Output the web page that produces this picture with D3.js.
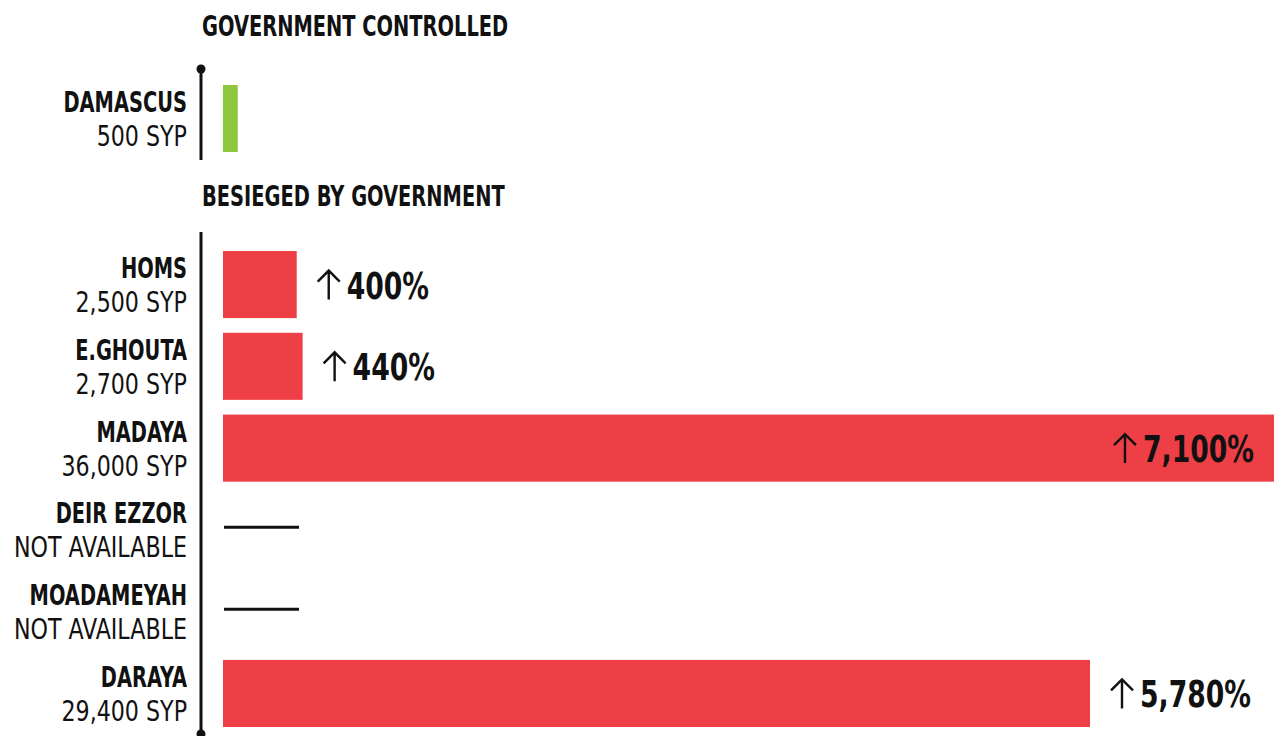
<!DOCTYPE html>
<html>
<head>
<meta charset="utf-8">
<script src="https://cdn.jsdelivr.net/npm/d3@7"></script>
<style>
	body { margin: 0; background: #fff; overflow: hidden; }
	svg { display: block; }
</style>
</head>
<body>
<div id="chart"></div>
<script>
// data
var groups = ["GOVERNMENT CONTROLLED", "BESIEGED BY GOVERNMENT"];
var govCities = ["DAMASCUS"];
var govPrices = [500];
var siegeCities = ["HOMS", "E.GHOUTA", "MADAYA", "DEIR EZZOR", "MOADAMEYAH", "DARAYA"];
var siegePrices = [2500, 2700, 36000, null, null, 29400];
var siegeChanges = [400, 440, 7100, null, null, 5780];

var W = 1274, H = 736;
var font = "'DejaVu Sans Condensed', 'DejaVu Sans', sans-serif";
var green = "#8dc63f", red = "#ee3e46";
// the original type is a very narrow face, so squeeze the text horizontally
var sqBold = 0.745, sqReg = 0.85, sqPct = 0.78;

var svg = d3.select("#chart").append("svg")
	.attr("width", W)
	.attr("height", H);

var x = d3.scaleLinear().domain([0, 29400]).range([223, 1090]);
var fmt = d3.format(",");

var yGov = d3.scaleBand().domain(govCities).range([85, 152]).padding(0);
var ySiege = d3.scaleBand().domain(siegeCities).range([251, 727])
	.paddingInner(0.18).paddingOuter(0);

// section headings
svg.selectAll(".head")
	.data(groups)
	.enter().append("text")
	.attr("transform", function(d, i) {
		return "translate(202," + (i == 0 ? 36 : 206) + ") scale(" + sqBold + ",1)";
	})
	.style("font-family", font)
	.style("font-weight", "bold")
	.style("font-size", "29px")
	.attr("fill", "#111")
	.text(function(d) { return d; });

// axis lines
svg.append("line")
	.attr("x1", 201).attr("x2", 201)
	.attr("y1", 69).attr("y2", 160)
	.attr("stroke", "#111").attr("stroke-width", 3);
svg.append("circle").attr("cx", 201).attr("cy", 69).attr("r", 4.5).attr("fill", "#111");
svg.append("line")
	.attr("x1", 201).attr("x2", 201)
	.attr("y1", 232).attr("y2", 736)
	.attr("stroke", "#111").attr("stroke-width", 3);
svg.append("circle").attr("cx", 201).attr("cy", 734).attr("r", 4.5).attr("fill", "#111");

function labels(sel, cities, prices, y) {
	var g = sel.selectAll(".lab")
		.data(cities)
		.enter().append("g")
		.attr("transform", function(d) { return "translate(187," + y(d) + ")"; });
	g.append("text")
		.attr("transform", "translate(0,27) scale(" + sqBold + ",1)")
		.attr("text-anchor", "end")
		.style("font-family", font)
		.style("font-weight", "bold")
		.style("font-size", "29px")
		.attr("fill", "#111")
		.text(function(d) { return d; });
	g.append("text")
		.attr("transform", "translate(0,61) scale(" + sqReg + ",1)")
		.attr("text-anchor", "end")
		.style("font-family", font)
		.style("font-size", "29px")
		.attr("fill", "#111")
		.text(function(d, i) {
			return prices[i] == null ? "NOT AVAILABLE" : fmt(prices[i]) + " SYP";
		});
}

var gGov = svg.append("g");
labels(gGov, govCities, govPrices, yGov);
gGov.selectAll("rect")
	.data(govPrices)
	.enter().append("rect")
	.attr("x", x(0))
	.attr("y", function(d, i) { return yGov(govCities[i]); })
	.attr("width", function(d) { return x(d) - x(0); })
	.attr("height", yGov.bandwidth())
	.attr("fill", green);

var gSiege = svg.append("g");
labels(gSiege, siegeCities, siegePrices, ySiege);

var rows = siegeCities.map(function(c, i) {
	return { city: c, price: siegePrices[i], change: siegeChanges[i] };
});

gSiege.selectAll("rect")
	.data(rows.filter(function(d) { return d.price != null; }))
	.enter().append("rect")
	.attr("x", x(0))
	.attr("y", function(d) { return ySiege(d.city); })
	.attr("width", function(d) { return x(d.price) - x(0); })
	.attr("height", ySiege.bandwidth())
	.attr("fill", red);

gSiege.selectAll(".na")
	.data(rows.filter(function(d) { return d.price == null; }))
	.enter().append("line")
	.attr("x1", 224).attr("x2", 299)
	.attr("y1", function(d) { return ySiege(d.city) + 31; })
	.attr("y2", function(d) { return ySiege(d.city) + 31; })
	.attr("stroke", "#111").attr("stroke-width", 3);

// percent labels: thin drawn arrow + squeezed bold number
var pct = gSiege.selectAll(".pct")
	.data(rows.filter(function(d) { return d.change != null; }))
	.enter().append("g");
pct.append("path")
	.attr("d", "M12,1V-28M1,-17L12,-28L23,-17")
	.attr("fill", "none")
	.attr("stroke", "#111")
	.attr("stroke-width", 2.4);
pct.append("text")
	.attr("class", "num")
	.attr("transform", "translate(30,0) scale(" + sqPct + ",1)")
	.style("font-family", font)
	.style("font-weight", "bold")
	.style("font-size", "38px")
	.attr("fill", "#111")
	.text(function(d) { return fmt(d.change) + "%"; });
pct.attr("transform", function(d) {
	var yy = ySiege(d.city) + ySiege.bandwidth() / 2 + 14;
	var end = x(d.price);
	if (end > W) {
		var len = 30 + d3.select(this).select(".num").node().getComputedTextLength() * sqPct;
		return "translate(" + (W - 20 - len) + "," + yy + ")";
	}
	return "translate(" + (end + 20) + "," + yy + ")";
});
</script>
</body>
</html>
